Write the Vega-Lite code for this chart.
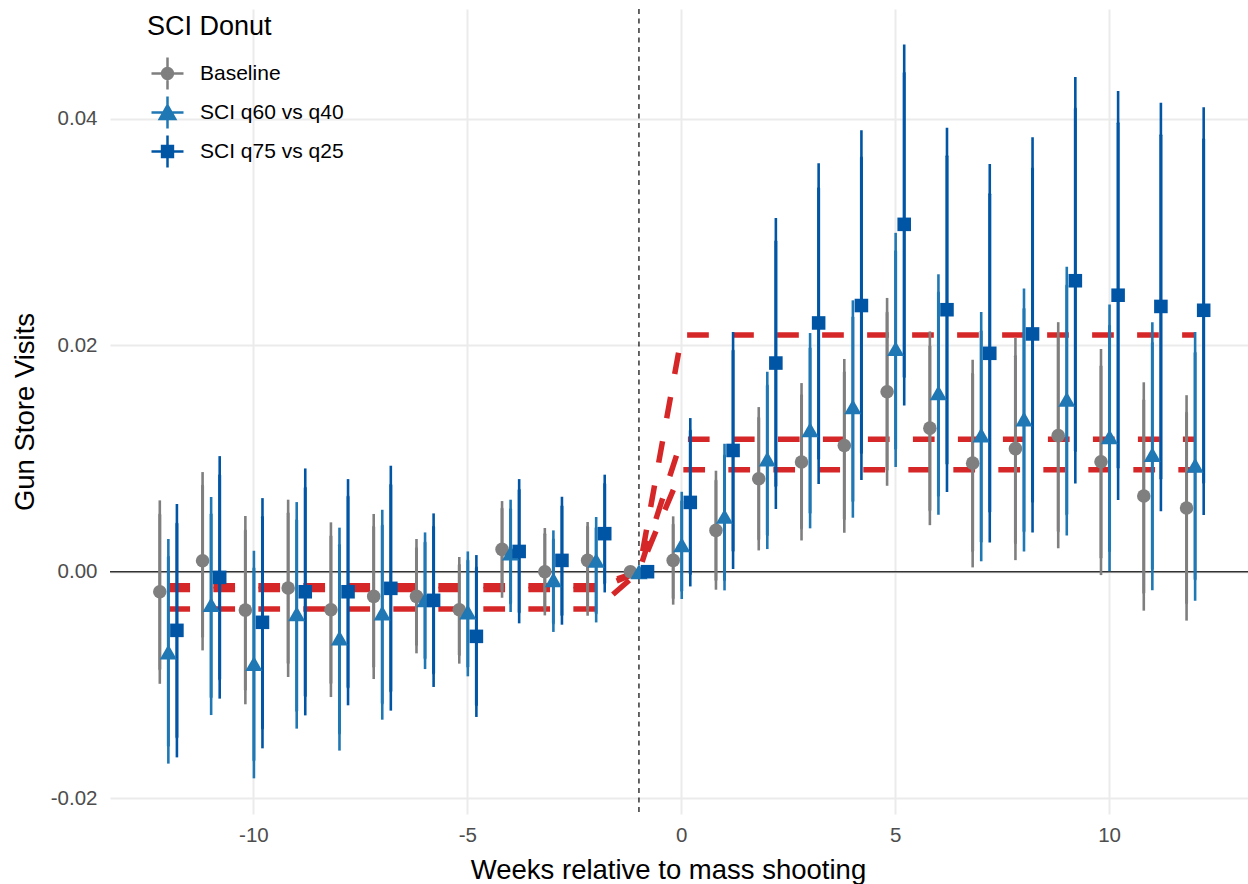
{
  "$schema": "https://vega.github.io/schema/vega-lite/v6.json",
  "width": 1138,
  "height": 805,
  "autosize": {"type": "none"},
  "padding": {"left": 110, "top": 9, "right": 0, "bottom": 70},
  "background": "white",
  "config": {
    "font": "Liberation Sans",
    "view": {"stroke": null},
    "axis": {
      "grid": true, "gridColor": "#ebebeb", "gridWidth": 2,
      "domain": false, "ticks": false, "tickSize": 0,
      "labelFontSize": 20.5, "labelColor": "#4d4d4d", "labelFont": "Liberation Sans",
      "titleFontSize": 27.5, "titleFontWeight": "normal", "titleColor": "black", "titleFont": "Liberation Sans"
    },
    "legend": {
      "titleFontSize": 27, "titleFontWeight": "normal", "titleColor": "black", "titleFont": "Liberation Sans",
      "labelFontSize": 21, "labelColor": "black", "labelFont": "Liberation Sans",
      "symbolSize": 1024, "symbolStrokeWidth": 2.5,
      "rowPadding": -6.5, "titlePadding": 15, "symbolOffset": 3, "labelOffset": 15, "padding": 0
    }
  },
  "datasets": {
    "est": [
      {"week": -12, "series": "Baseline", "est": -0.00177, "lo95": -0.0099, "hi95": 0.0063, "lo90": -0.0086, "hi90": 0.00503},
      {"week": -11, "series": "Baseline", "est": 0.00097, "lo95": -0.00695, "hi95": 0.0088, "lo90": -0.00571, "hi90": 0.00757},
      {"week": -10, "series": "Baseline", "est": -0.00339, "lo95": -0.01171, "hi95": 0.00492, "lo90": -0.01039, "hi90": 0.00362},
      {"week": -9, "series": "Baseline", "est": -0.00144, "lo95": -0.0093, "hi95": 0.00636, "lo90": -0.00804, "hi90": 0.00515},
      {"week": -8, "series": "Baseline", "est": -0.00336, "lo95": -0.01107, "hi95": 0.00436, "lo90": -0.0098, "hi90": 0.00312},
      {"week": -7, "series": "Baseline", "est": -0.00218, "lo95": -0.00948, "hi95": 0.0051, "lo90": -0.00836, "hi90": 0.00395},
      {"week": -6, "series": "Baseline", "est": -0.00218, "lo95": -0.00721, "hi95": 0.00289, "lo90": -0.00642, "hi90": 0.00206},
      {"week": -5, "series": "Baseline", "est": -0.00336, "lo95": -0.00812, "hi95": 0.0013, "lo90": -0.00733, "hi90": 0.00059},
      {"week": -4, "series": "Baseline", "est": 0.00197, "lo95": -0.0023, "hi95": 0.00624, "lo90": -0.00159, "hi90": 0.00556},
      {"week": -3, "series": "Baseline", "est": 0.0, "lo95": -0.00386, "hi95": 0.00386, "lo90": -0.00315, "hi90": 0.0033},
      {"week": -2, "series": "Baseline", "est": 0.001, "lo95": -0.00389, "hi95": 0.00439, "lo90": -0.0032, "hi90": 0.00395},
      {"week": -1, "series": "Baseline", "est": 0.0, "lo95": null, "hi95": null, "lo90": null, "hi90": null},
      {"week": 0, "series": "Baseline", "est": 0.001, "lo95": -0.00291, "hi95": 0.00489, "lo90": -0.00233, "hi90": 0.00415},
      {"week": 1, "series": "Baseline", "est": 0.00365, "lo95": -0.00159, "hi95": 0.00892, "lo90": -0.00071, "hi90": 0.00804},
      {"week": 2, "series": "Baseline", "est": 0.00821, "lo95": 0.00188, "hi95": 0.01454, "lo90": 0.00289, "hi90": 0.01357},
      {"week": 3, "series": "Baseline", "est": 0.00969, "lo95": 0.00276, "hi95": 0.01666, "lo90": 0.00386, "hi90": 0.01557},
      {"week": 4, "series": "Baseline", "est": 0.01115, "lo95": 0.00344, "hi95": 0.01879, "lo90": 0.00467, "hi90": 0.0176},
      {"week": 5, "series": "Baseline", "est": 0.0159, "lo95": 0.00759, "hi95": 0.02418, "lo90": 0.00902, "hi90": 0.02288},
      {"week": 6, "series": "Baseline", "est": 0.01268, "lo95": 0.00411, "hi95": 0.02122, "lo90": 0.00544, "hi90": 0.01989},
      {"week": 7, "series": "Baseline", "est": 0.00959, "lo95": 0.00038, "hi95": 0.01872, "lo90": 0.00185, "hi90": 0.01747},
      {"week": 8, "series": "Baseline", "est": 0.01087, "lo95": 0.00102, "hi95": 0.02064, "lo90": 0.00256, "hi90": 0.01904},
      {"week": 9, "series": "Baseline", "est": 0.01202, "lo95": 0.00207, "hi95": 0.02204, "lo90": 0.0036, "hi90": 0.02064},
      {"week": 10, "series": "Baseline", "est": 0.00971, "lo95": -0.0003, "hi95": 0.01967, "lo90": 0.00127, "hi90": 0.01813},
      {"week": 11, "series": "Baseline", "est": 0.00668, "lo95": -0.00344, "hi95": 0.01673, "lo90": -0.00184, "hi90": 0.01513},
      {"week": 12, "series": "Baseline", "est": 0.00563, "lo95": -0.00432, "hi95": 0.01559, "lo90": -0.00275, "hi90": 0.01401},

      {"week": -12, "series": "SCI q60 vs q40", "est": -0.00709, "lo95": -0.01695, "hi95": 0.00289, "lo90": -0.01533, "hi90": 0.0013},
      {"week": -11, "series": "SCI q60 vs q40", "est": -0.00291, "lo95": -0.01266, "hi95": 0.0066, "lo90": -0.01107, "hi90": 0.00506},
      {"week": -10, "series": "SCI q60 vs q40", "est": -0.00812, "lo95": -0.01825, "hi95": 0.00185, "lo90": -0.01663, "hi90": 0.00029},
      {"week": -9, "series": "SCI q60 vs q40", "est": -0.00371, "lo95": -0.01386, "hi95": 0.00615, "lo90": -0.01225, "hi90": 0.00453},
      {"week": -8, "series": "SCI q60 vs q40", "est": -0.00586, "lo95": -0.0158, "hi95": 0.00389, "lo90": -0.01425, "hi90": 0.00233},
      {"week": -7, "series": "SCI q60 vs q40", "est": -0.00365, "lo95": -0.01307, "hi95": 0.00547, "lo90": -0.0116, "hi90": 0.00406},
      {"week": -6, "series": "SCI q60 vs q40", "est": -0.00247, "lo95": -0.0086, "hi95": 0.00347, "lo90": -0.00762, "hi90": 0.00256},
      {"week": -5, "series": "SCI q60 vs q40", "est": -0.00356, "lo95": -0.00924, "hi95": 0.00179, "lo90": -0.00836, "hi90": 0.00097},
      {"week": -4, "series": "SCI q60 vs q40", "est": 0.00165, "lo95": -0.00356, "hi95": 0.00636, "lo90": -0.00277, "hi90": 0.0055},
      {"week": -3, "series": "SCI q60 vs q40", "est": -0.00071, "lo95": -0.00532, "hi95": 0.00365, "lo90": -0.00453, "hi90": 0.00283},
      {"week": -2, "series": "SCI q60 vs q40", "est": 0.001, "lo95": -0.00448, "hi95": 0.00483, "lo90": -0.00365, "hi90": 0.00386},
      {"week": -1, "series": "SCI q60 vs q40", "est": 0.0, "lo95": null, "hi95": null, "lo90": null, "hi90": null},
      {"week": 0, "series": "SCI q60 vs q40", "est": 0.00238, "lo95": -0.00241, "hi95": 0.00706, "lo90": -0.00165, "hi90": 0.00621},
      {"week": 1, "series": "SCI q60 vs q40", "est": 0.00489, "lo95": -0.00165, "hi95": 0.0113, "lo90": -0.00071, "hi90": 0.01024},
      {"week": 2, "series": "SCI q60 vs q40", "est": 0.00995, "lo95": 0.002, "hi95": 0.01766, "lo90": 0.00327, "hi90": 0.01642},
      {"week": 3, "series": "SCI q60 vs q40", "est": 0.01254, "lo95": 0.00383, "hi95": 0.02108, "lo90": 0.00524, "hi90": 0.01972},
      {"week": 4, "series": "SCI q60 vs q40", "est": 0.01457, "lo95": 0.00477, "hi95": 0.02397, "lo90": 0.00627, "hi90": 0.02245},
      {"week": 5, "series": "SCI q60 vs q40", "est": 0.0197, "lo95": 0.00925, "hi95": 0.02993, "lo90": 0.01091, "hi90": 0.02829},
      {"week": 6, "series": "SCI q60 vs q40", "est": 0.01581, "lo95": 0.00503, "hi95": 0.02627, "lo90": 0.00676, "hi90": 0.02464},
      {"week": 7, "series": "SCI q60 vs q40", "est": 0.01208, "lo95": 0.00092, "hi95": 0.02294, "lo90": 0.00268, "hi90": 0.02122},
      {"week": 8, "series": "SCI q60 vs q40", "est": 0.01348, "lo95": 0.00179, "hi95": 0.02501, "lo90": 0.0036, "hi90": 0.0232},
      {"week": 9, "series": "SCI q60 vs q40", "est": 0.01523, "lo95": 0.00319, "hi95": 0.02693, "lo90": 0.0051, "hi90": 0.02525},
      {"week": 10, "series": "SCI q60 vs q40", "est": 0.01191, "lo95": 0.00004, "hi95": 0.02361, "lo90": 0.00186, "hi90": 0.0217},
      {"week": 11, "series": "SCI q60 vs q40", "est": 0.01035, "lo95": -0.00163, "hi95": 0.02204, "lo90": 0.00029, "hi90": 0.0202},
      {"week": 12, "series": "SCI q60 vs q40", "est": 0.0094, "lo95": -0.00257, "hi95": 0.02117, "lo90": -0.00065, "hi90": 0.01932},

      {"week": -12, "series": "SCI q75 vs q25", "est": -0.00518, "lo95": -0.0164, "hi95": 0.00598, "lo90": -0.0146, "hi90": 0.00424},
      {"week": -11, "series": "SCI q75 vs q25", "est": -0.0005, "lo95": -0.01121, "hi95": 0.01021, "lo90": -0.00948, "hi90": 0.0085},
      {"week": -10, "series": "SCI q75 vs q25", "est": -0.00447, "lo95": -0.0156, "hi95": 0.0065, "lo90": -0.0138, "hi90": 0.0048},
      {"week": -9, "series": "SCI q75 vs q25", "est": -0.00177, "lo95": -0.01269, "hi95": 0.00912, "lo90": -0.01095, "hi90": 0.00739},
      {"week": -8, "series": "SCI q75 vs q25", "est": -0.00177, "lo95": -0.0118, "hi95": 0.00818, "lo90": -0.01018, "hi90": 0.00662},
      {"week": -7, "series": "SCI q75 vs q25", "est": -0.00147, "lo95": -0.01227, "hi95": 0.00936, "lo90": -0.01054, "hi90": 0.00765},
      {"week": -6, "series": "SCI q75 vs q25", "est": -0.00253, "lo95": -0.01018, "hi95": 0.00515, "lo90": -0.00895, "hi90": 0.00395},
      {"week": -5, "series": "SCI q75 vs q25", "est": -0.00571, "lo95": -0.01283, "hi95": 0.00147, "lo90": -0.01174, "hi90": 0.00035},
      {"week": -4, "series": "SCI q75 vs q25", "est": 0.00179, "lo95": -0.00456, "hi95": 0.00818, "lo90": -0.00356, "hi90": 0.00721},
      {"week": -3, "series": "SCI q75 vs q25", "est": 0.001, "lo95": -0.00468, "hi95": 0.00662, "lo90": -0.0038, "hi90": 0.00577},
      {"week": -2, "series": "SCI q75 vs q25", "est": 0.00336, "lo95": -0.00183, "hi95": 0.00857, "lo90": -0.001, "hi90": 0.00774},
      {"week": -1, "series": "SCI q75 vs q25", "est": 0.0, "lo95": null, "hi95": null, "lo90": null, "hi90": null},
      {"week": 0, "series": "SCI q75 vs q25", "est": 0.00612, "lo95": -0.0013, "hi95": 0.01357, "lo90": -0.00018, "hi90": 0.01245},
      {"week": 1, "series": "SCI q75 vs q25", "est": 0.01071, "lo95": 0.00024, "hi95": 0.02117, "lo90": 0.00188, "hi90": 0.01951},
      {"week": 2, "series": "SCI q75 vs q25", "est": 0.01843, "lo95": 0.00554, "hi95": 0.03123, "lo90": 0.00759, "hi90": 0.02917},
      {"week": 3, "series": "SCI q75 vs q25", "est": 0.02197, "lo95": 0.00774, "hi95": 0.03608, "lo90": 0.01002, "hi90": 0.03385},
      {"week": 4, "series": "SCI q75 vs q25", "est": 0.02351, "lo95": 0.00809, "hi95": 0.03899, "lo90": 0.01052, "hi90": 0.03656},
      {"week": 5, "series": "SCI q75 vs q25", "est": 0.03068, "lo95": 0.01468, "hi95": 0.04657, "lo90": 0.01723, "hi90": 0.04404},
      {"week": 6, "series": "SCI q75 vs q25", "est": 0.02314, "lo95": 0.00703, "hi95": 0.03922, "lo90": 0.00959, "hi90": 0.0367},
      {"week": 7, "series": "SCI q75 vs q25", "est": 0.01929, "lo95": 0.00258, "hi95": 0.036, "lo90": 0.00533, "hi90": 0.03334},
      {"week": 8, "series": "SCI q75 vs q25", "est": 0.021, "lo95": 0.00347, "hi95": 0.03838, "lo90": 0.00623, "hi90": 0.03559},
      {"week": 9, "series": "SCI q75 vs q25", "est": 0.0257, "lo95": 0.0078, "hi95": 0.04369, "lo90": 0.01069, "hi90": 0.04089},
      {"week": 10, "series": "SCI q75 vs q25", "est": 0.02442, "lo95": 0.00633, "hi95": 0.04246, "lo90": 0.00923, "hi90": 0.0396},
      {"week": 11, "series": "SCI q75 vs q25", "est": 0.02343, "lo95": 0.00535, "hi95": 0.04142, "lo90": 0.00825, "hi90": 0.03856},
      {"week": 12, "series": "SCI q75 vs q25", "est": 0.02309, "lo95": 0.005, "hi95": 0.04103, "lo90": 0.0079, "hi90": 0.03817}
    ],
    "fit": [
      {"series": "Baseline", "week": -12, "value": -0.00125},
      {"series": "Baseline", "week": -2, "value": -0.00125},
      {"series": "Baseline", "week": -1, "value": 0},
      {"series": "Baseline", "week": 0, "value": 0.009},
      {"series": "Baseline", "week": 12, "value": 0.009},
      {"series": "SCI q60 vs q40", "week": -12, "value": -0.0033},
      {"series": "SCI q60 vs q40", "week": -2, "value": -0.0033},
      {"series": "SCI q60 vs q40", "week": -1, "value": 0},
      {"series": "SCI q60 vs q40", "week": 0, "value": 0.0117},
      {"series": "SCI q60 vs q40", "week": 12, "value": 0.0117},
      {"series": "SCI q75 vs q25", "week": -12, "value": -0.00157},
      {"series": "SCI q75 vs q25", "week": -2, "value": -0.00157},
      {"series": "SCI q75 vs q25", "week": -1, "value": 0},
      {"series": "SCI q75 vs q25", "week": 0, "value": 0.0209},
      {"series": "SCI q75 vs q25", "week": 12, "value": 0.0209}
    ]
  },
  "layer": [
    {
      "data": {"values": [{}]},
      "mark": {"type": "rule", "color": "#333333", "strokeWidth": 1.6},
      "encoding": {
        "y": {"datum": 0, "type": "quantitative",
          "scale": {"domain": [-0.0214, 0.0497], "nice": false, "zero": false},
          "axis": {"values": [-0.02, 0, 0.02, 0.04], "labelExpr": "datum.value < 0 ? '-' + format(-datum.value, '.2f') : format(datum.value, '.2f')", "labelPadding": 13, "titlePadding": 11},
          "title": "Gun Store Visits"}
      }
    },
    {
      "data": {"name": "fit"},
      "mark": {"type": "line", "color": "#d62728", "strokeWidth": 5.5, "strokeDash": [21.7, 23.3], "strokeCap": "butt"},
      "encoding": {
        "x": {"field": "week", "type": "ordinal",
          "scale": {"type": "band", "domain": [-12,-11,-10,-9,-8,-7,-6,-5,-4,-3,-2,-1,0,1,2,3,4,5,6,7,8,9,10,11,12], "paddingInner": 0.4, "paddingOuter": 1.04, "align": 0.532},
          "axis": {"values": [-10, -5, 0, 5, 10], "bandPosition": 0.5, "labelAngle": 0, "labelExpr": "datum.value < 0 ? '-' + (-datum.value) : '' + datum.value", "labelPadding": 11, "titlePadding": 11, "titleX": 558},
          "title": "Weeks relative to mass shooting"},
        "y": {"field": "value", "type": "quantitative", "title": "Gun Store Visits"},
        "detail": {"field": "series", "type": "nominal"},
        "order": {"field": "week", "type": "quantitative"}
      }
    },
    {
      "data": {"values": [{}]},
      "mark": {"type": "rule", "color": "black", "strokeWidth": 1.2, "strokeDash": [5, 4.5]},
      "encoding": {
        "x": {"datum": -1, "type": "ordinal", "title": "Weeks relative to mass shooting"}
      }
    },
    {
      "data": {"name": "est"},
      "mark": {"type": "rule", "strokeWidth": 2.6},
      "encoding": {
        "x": {"field": "week", "type": "ordinal", "title": "Weeks relative to mass shooting"},
        "xOffset": {"field": "series", "type": "nominal", "scale": {"domain": ["Baseline", "SCI q60 vs q40", "SCI q75 vs q25"]}},
        "y": {"field": "lo95", "type": "quantitative", "title": "Gun Store Visits"},
        "y2": {"field": "hi95"},
        "color": {"field": "series", "type": "nominal", "title": "SCI Donut",
          "scale": {"domain": ["Baseline", "SCI q60 vs q40", "SCI q75 vs q25"], "range": ["#7f7f7f", "#1f78b4", "#0055a4"]},
          "legend": {
            "orient": "none", "legendX": 37, "legendY": 5,
            "encode": {
              "symbols": {
                "update": {
                  "shape": {"signal": "datum.value === 'Baseline' ? 'M-1,0L1,0M0,-1L0,1M0.34,0A0.34,0.34,0,1,1,-0.34,0A0.34,0.34,0,1,1,0.34,0Z' : datum.value === 'SCI q60 vs q40' ? 'M-1,0L1,0M0,-1L0,1M0,-0.45L0.48,0.4L-0.48,0.4Z' : 'M-1,0L1,0M0,-1L0,1M-0.34,-0.34L0.34,-0.34L0.34,0.34L-0.34,0.34Z'"},
                  "stroke": {"signal": "datum.value === 'Baseline' ? '#7f7f7f' : datum.value === 'SCI q60 vs q40' ? '#1f78b4' : '#0055a4'"},
                  "fill": {"signal": "datum.value === 'Baseline' ? '#7f7f7f' : datum.value === 'SCI q60 vs q40' ? '#1f78b4' : '#0055a4'"},
                  "strokeWidth": {"value": 2.5},
                  "size": {"value": 1024},
                  "opacity": {"value": 1}
                }
              }
            }
          }}
      }
    },
    {
      "data": {"name": "est"},
      "mark": {"type": "rule", "strokeWidth": 3.0, "strokeCap": "round"},
      "encoding": {
        "x": {"field": "week", "type": "ordinal", "title": "Weeks relative to mass shooting"},
        "xOffset": {"field": "series", "type": "nominal"},
        "y": {"field": "lo90", "type": "quantitative", "title": "Gun Store Visits"},
        "y2": {"field": "hi90"},
        "color": {"field": "series", "type": "nominal", "title": "SCI Donut"}
      }
    },
    {
      "data": {"name": "est"},
      "mark": {"type": "point", "filled": true, "opacity": 1, "size": 184},
      "encoding": {
        "x": {"field": "week", "type": "ordinal", "title": "Weeks relative to mass shooting"},
        "xOffset": {"field": "series", "type": "nominal"},
        "y": {"field": "est", "type": "quantitative", "title": "Gun Store Visits"},
        "color": {"field": "series", "type": "nominal", "title": "SCI Donut"},
        "shape": {"field": "series", "type": "nominal", "legend": null,
          "scale": {"domain": ["SCI q75 vs q25", "SCI q60 vs q40", "Baseline"], "range": ["square", "M0,-1.1L1.27,1.1L-1.27,1.1Z", "circle"]}}
      }
    }
  ]
}
